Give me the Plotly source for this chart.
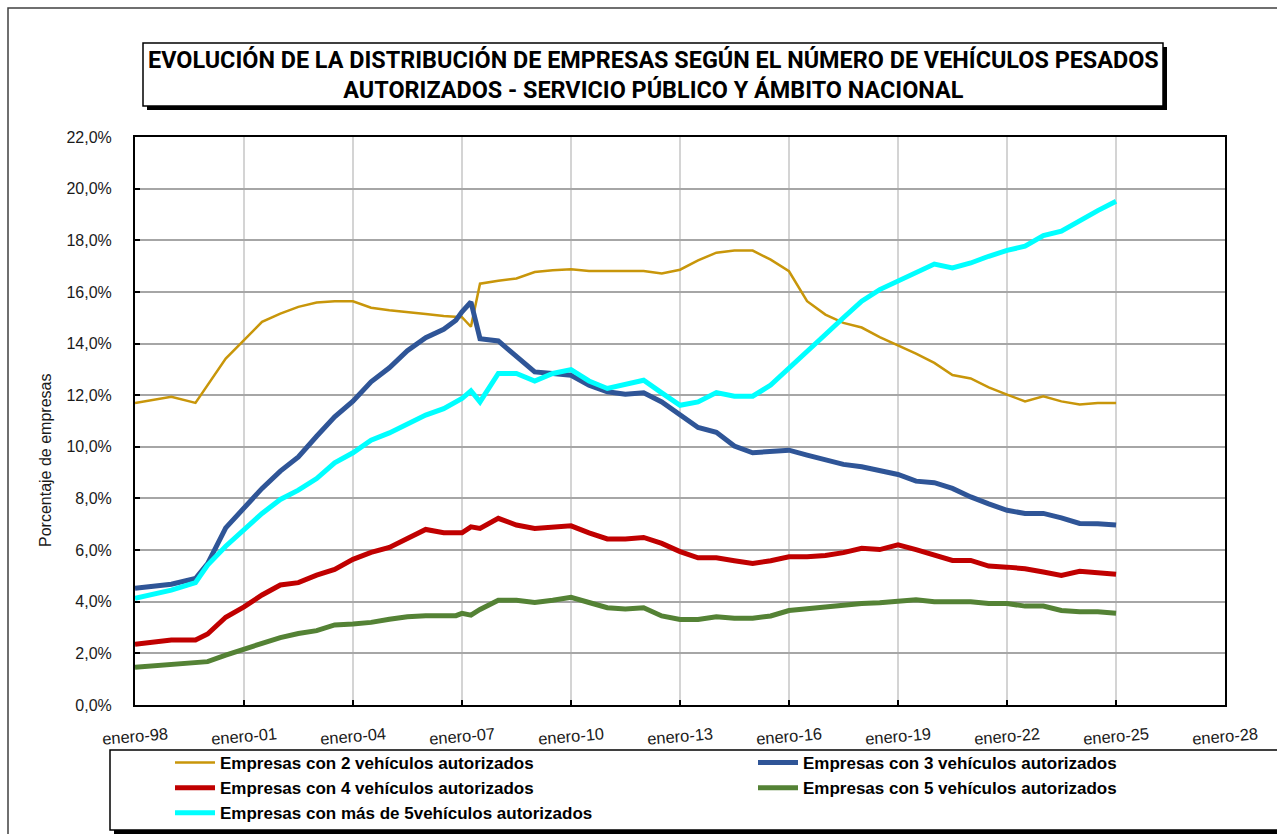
import plotly.graph_objects as go

# Fechas de cada observación
fechas = [
    "1998-01-01", "1999-01-01", "1999-09-01", "2000-01-01", "2000-07-01",
    "2001-01-01", "2001-07-01", "2002-01-01", "2002-07-01", "2003-01-01",
    "2003-07-01", "2004-01-01", "2004-07-01", "2005-01-01", "2005-07-01",
    "2006-01-01", "2006-07-01", "2006-11-01", "2007-01-01", "2007-04-01",
    "2007-07-01", "2008-01-01", "2008-07-01", "2009-01-01", "2009-07-01",
    "2010-01-01", "2010-07-01", "2011-01-01", "2011-07-01", "2012-01-01",
    "2012-07-01", "2013-01-01", "2013-07-01", "2014-01-01", "2014-07-01",
    "2015-01-01", "2015-07-01", "2016-01-01", "2016-07-01", "2017-01-01",
    "2017-07-01", "2018-01-01", "2018-07-01", "2019-01-01", "2019-07-01",
    "2020-01-01", "2020-07-01", "2021-01-01", "2021-07-01", "2022-01-01",
    "2022-07-01", "2023-01-01", "2023-07-01", "2024-01-01", "2024-07-01",
    "2025-01-01",
]

# Porcentaje de empresas por tramo de vehículos autorizados
con_2 = [
    11.70, 11.94, 11.70, 12.39, 13.42, 14.13, 14.84, 15.16, 15.42, 15.59,
    15.64, 15.64, 15.39, 15.29, 15.23, 15.14, 15.07, 15.05, 15.02, 14.65,
    16.32, 16.43, 16.52, 16.77, 16.84, 16.88, 16.81, 16.81, 16.81, 16.81,
    16.71, 16.86, 17.22, 17.52, 17.60, 17.60, 17.25, 16.80, 15.64, 15.12,
    14.80, 14.62, 14.25, 13.94, 13.61, 13.25, 12.78, 12.65, 12.30, 12.02,
    11.76, 11.96, 11.76, 11.64, 11.70, 11.70,
]
con_3 = [
    4.52, 4.68, 4.90, 5.48, 6.86, 7.62, 8.39, 9.06, 9.61, 10.41,
    11.16, 11.77, 12.52, 13.06, 13.72, 14.23, 14.55, 14.90, 15.23, 15.61,
    14.19, 14.10, 13.48, 12.90, 12.84, 12.77, 12.39, 12.13, 12.04, 12.09,
    11.74, 11.23, 10.75, 10.56, 10.03, 9.77, 9.81, 9.87, 9.68, 9.48,
    9.32, 9.23, 9.10, 8.93, 8.67, 8.61, 8.39, 8.06, 7.79, 7.54,
    7.42, 7.42, 7.25, 7.03, 7.02, 6.97,
]
con_4 = [
    2.35, 2.52, 2.52, 2.75, 3.40, 3.80, 4.26, 4.65, 4.74, 5.03,
    5.25, 5.64, 5.91, 6.10, 6.45, 6.80, 6.67, 6.69, 6.67, 6.90,
    6.84, 7.23, 6.97, 6.84, 6.88, 6.94, 6.67, 6.43, 6.43, 6.49,
    6.26, 5.94, 5.70, 5.70, 5.59, 5.48, 5.59, 5.74, 5.74, 5.79,
    5.90, 6.07, 6.02, 6.20, 6.02, 5.83, 5.60, 5.60, 5.38, 5.34,
    5.28, 5.15, 5.02, 5.18, 5.12, 5.06,
]
con_5 = [
    1.46, 1.55, 1.61, 1.68, 1.93, 2.18, 2.39, 2.61, 2.77, 2.88,
    3.10, 3.14, 3.20, 3.32, 3.42, 3.46, 3.46, 3.46, 3.55, 3.48,
    3.70, 4.06, 4.06, 3.97, 4.06, 4.17, 3.97, 3.77, 3.72, 3.77,
    3.45, 3.31, 3.31, 3.42, 3.36, 3.36, 3.45, 3.66, 3.73, 3.79,
    3.89, 3.93, 3.96, 4.02, 4.08, 4.00, 4.00, 4.00, 3.93, 3.93,
    3.83, 3.83, 3.66, 3.61, 3.61, 3.55,
]
mas_de_5 = [
    4.13, 4.45, 4.74, 5.42, 6.15, 6.80, 7.42, 7.96, 8.32, 8.77,
    9.38, 9.77, 10.26, 10.54, 10.88, 11.23, 11.48, 11.72, 11.87, 12.17,
    11.74, 12.84, 12.84, 12.55, 12.84, 12.99, 12.55, 12.26, 12.43, 12.58,
    12.09, 11.61, 11.74, 12.10, 11.96, 11.96, 12.39, 13.03, 13.68, 14.35,
    15.00, 15.64, 16.09, 16.41, 16.74, 17.08, 16.93, 17.12, 17.38, 17.61,
    17.77, 18.18, 18.35, 18.76, 19.15, 19.51,
]

# Etiquetas del eje temporal
ticks_fecha = [
    "1998-01-01", "2001-01-01", "2004-01-01", "2007-01-01", "2010-01-01",
    "2013-01-01", "2016-01-01", "2019-01-01", "2022-01-01", "2025-01-01",
    "2028-01-01",
]
ticks_texto = [
    "enero-98", "enero-01", "enero-04", "enero-07", "enero-10", "enero-13",
    "enero-16", "enero-19", "enero-22", "enero-25", "enero-28",
]

# (nombre, valores, color, grosor, leyenda)
series = [
    ("Empresas con 2 vehículos autorizados", con_2, "#C8960A", 2.5, "legend"),
    ("Empresas con 3 vehículos autorizados", con_3, "#2F5597", 5, "legend2"),
    ("Empresas con 4 vehículos autorizados", con_4, "#C00000", 5, "legend"),
    ("Empresas con 5 vehículos autorizados", con_5, "#548235", 5, "legend2"),
    ("Empresas con más de 5vehículos autorizados", mas_de_5, "#00FFFF", 5, "legend"),
]

W, H = 1277, 834
PL, PR, PT, PB = 135, 1225, 137, 705


def px_x(px):
    return (px - PL) / (PR - PL)


def px_y(py):
    return (PB - py) / (PB - PT)


fig = go.Figure()
for i, (nombre, valores, color, ancho, ley) in enumerate(series):
    fig.add_trace(go.Scatter(
        x=fechas, y=valores, mode="lines", name=nombre,
        legend=ley, legendgroup=f"g{i}",
        line=dict(color=color, width=ancho),
        hovertemplate="%{x|%b %Y}: %{y:.1f}%<extra></extra>",
    ))

shapes = [
    # marco exterior del gráfico
    dict(type="rect", xref="paper", yref="paper", layer="below",
         x0=px_x(8), x1=px_x(1320), y0=px_y(880), y1=px_y(8),
         line=dict(color="#404040", width=1.5), fillcolor="white"),
    # recuadro del título con sombra
    dict(type="rect", xref="paper", yref="paper",
         x0=px_x(147), x1=px_x(1167), y0=px_y(110), y1=px_y(47),
         line=dict(width=0), fillcolor="black"),
    dict(type="rect", xref="paper", yref="paper",
         x0=px_x(143), x1=px_x(1163), y0=px_y(106), y1=px_y(43),
         line=dict(color="black", width=1.5), fillcolor="white"),
    # recuadro de la leyenda con sombra
    dict(type="rect", xref="paper", yref="paper",
         x0=px_x(114), x1=px_x(1320), y0=px_y(834), y1=px_y(754),
         line=dict(width=0), fillcolor="black"),
    dict(type="rect", xref="paper", yref="paper",
         x0=px_x(110), x1=px_x(1310), y0=px_y(830), y1=px_y(750),
         line=dict(color="black", width=1.5), fillcolor="white"),
]

annotations = [
    dict(xref="paper", yref="paper", x=px_x(653), y=px_y(75),
         xanchor="center", yanchor="middle", showarrow=False,
         text="EVOLUCIÓN DE LA DISTRIBUCIÓN DE EMPRESAS SEGÚN EL NÚMERO DE VEHÍCULOS PESADOS"
              "<br>AUTORIZADOS - SERVICIO PÚBLICO Y ÁMBITO NACIONAL",
         font=dict(family="Roboto, Liberation Sans, sans-serif",
                   size=23.4, color="black", weight="bold"),
         align="center"),
    # título del eje vertical
    dict(xref="paper", yref="paper", x=px_x(45), y=px_y(461),
         xanchor="center", yanchor="middle", showarrow=False,
         text="Porcentaje de empresas", textangle=-90,
         font=dict(family="Liberation Sans, Arial, sans-serif", size=16, color="#1a1a1a")),
]
for f, t in zip(ticks_fecha, ticks_texto):
    annotations.append(dict(
        xref="x", yref="paper", x=f, y=0, yshift=-31,
        xanchor="center", yanchor="middle", showarrow=False,
        text=t, textangle=-5,
        font=dict(family="Liberation Sans, Arial, sans-serif", size=16.5, color="#1a1a1a"),
    ))

legend_font = dict(family="Liberation Sans, Arial, sans-serif", size=17,
                   color="black", weight="bold")

fig.update_layout(
    width=W, height=H, autosize=False,
    margin=dict(l=PL, r=W - PR, t=PT, b=H - PB, pad=0, autoexpand=False),
    paper_bgcolor="white", plot_bgcolor="white",
    separators=",.",
    font=dict(family="Liberation Sans, Arial, sans-serif", color="#1a1a1a"),
    showlegend=True,
    legend=dict(
        orientation="v", x=px_x(170), y=px_y(745), xanchor="left", yanchor="top",
        bgcolor="rgba(0,0,0,0)", borderwidth=0, itemwidth=40,
        tracegroupgap=1.5, font=legend_font, traceorder="normal",
    ),
    legend2=dict(
        orientation="v", x=px_x(753), y=px_y(745), xanchor="left", yanchor="top",
        bgcolor="rgba(0,0,0,0)", borderwidth=0, itemwidth=40,
        tracegroupgap=1.5, font=legend_font, traceorder="normal",
    ),
    shapes=shapes,
    annotations=annotations,
    xaxis=dict(
        type="date", range=["1998-01-01", "2028-01-01"],
        tickmode="array", tickvals=ticks_fecha, showticklabels=False,
        ticks="inside", ticklen=5, tickcolor="black", tickwidth=1.5,
        showgrid=True, gridcolor="#d4d4d4", gridwidth=1.5,
        showline=True, linecolor="black", linewidth=2, mirror=True,
        zeroline=False,
    ),
    yaxis=dict(
        range=[0, 22], dtick=2, tick0=0, tickformat=".1f", ticksuffix="%",
        ticks="inside", ticklen=5, tickcolor="black", tickwidth=1.5,
        ticklabelstandoff=18,
        tickfont=dict(size=16, color="#1a1a1a"),
        showgrid=True, gridcolor="#a6a6a6", gridwidth=1.5,
        showline=True, linecolor="black", linewidth=2, mirror=True,
        zeroline=False,
    ),
)

fig.write_html("out.html")
